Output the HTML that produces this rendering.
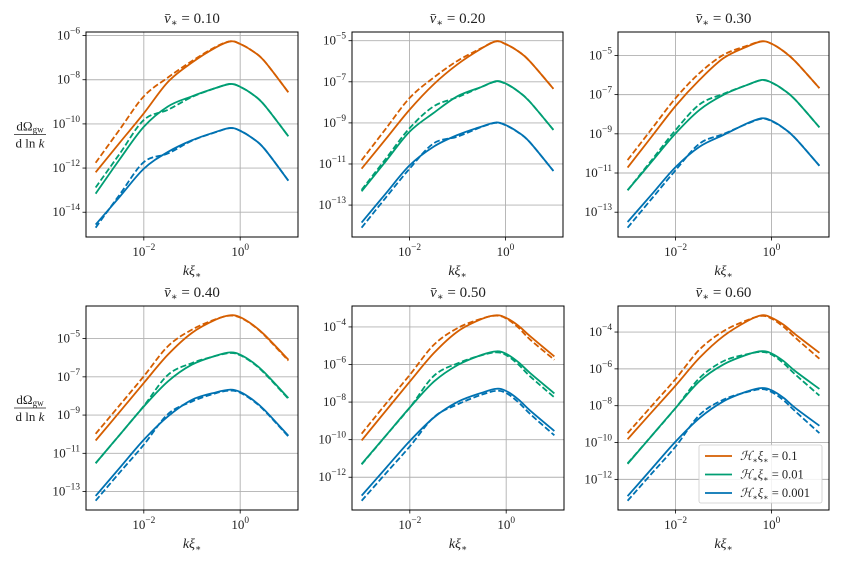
<!DOCTYPE html>
<html><head><meta charset="utf-8"><style>
body{margin:0;background:#fff}
svg{display:block;font-family:"Liberation Serif","DejaVu Serif",serif}
</style></head><body>
<svg id="fig" width="843" height="562" viewBox="0 0 843 562"></svg>
<script>
const logK = [-3,-2.5,-2,-1.5,-1,-0.5,-0.2,0,0.25,0.5,1];
const titles = ["0.10","0.20","0.30","0.40","0.50","0.60"];
const seriesNames = ["H=0.1","H=0.01","H=0.001"];
const yTicks = [[-6,-8,-10,-12,-14],[-5,-7,-9,-11,-13],[-5,-7,-9,-11,-13],[-5,-7,-9,-11,-13],[-4,-6,-8,-10,-12],[-4,-6,-8,-10,-12]];
const xTicks = [-2,0];
// log10 values; per panel: [orangeSolid, orangeDashed, greenSolid, greenDashed, blueSolid, blueDashed]
const p1 = [
 [-12.19,-10.85,-9.52,-8.1,-7.22,-6.53,-6.26,-6.38,-6.69,-7.15,-8.57],
 [-11.76,-10.25,-8.75,-7.9,-7.15,-6.5,-6.26,-6.38,-6.69,-7.15,-8.57],
 [-13.16,-11.6,-10.13,-9.21,-8.75,-8.37,-8.19,-8.32,-8.65,-9.14,-10.56],
 [-12.88,-11.35,-9.82,-9.36,-8.78,-8.37,-8.19,-8.32,-8.65,-9.14,-10.56],
 [-14.56,-13.3,-12.03,-11.27,-10.74,-10.36,-10.18,-10.31,-10.64,-11.12,-12.57],
 [-14.7,-13.2,-11.73,-11.34,-10.76,-10.37,-10.19,-10.31,-10.64,-11.12,-12.57]];
const p2 = [
 [-11.23,-9.8,-8.36,-7.13,-6.15,-5.38,-5.03,-5.16,-5.49,-5.98,-7.34],
 [-10.82,-9.3,-7.79,-6.8,-5.98,-5.36,-5.03,-5.16,-5.49,-5.98,-7.34],
 [-12.33,-10.88,-9.43,-8.52,-7.7,-7.25,-6.97,-7.08,-7.44,-7.95,-9.34],
 [-12.26,-10.76,-9.26,-8.2,-7.75,-7.25,-6.99,-7.09,-7.44,-7.95,-9.34],
 [-13.85,-12.45,-11.07,-10.16,-9.59,-9.18,-8.98,-9.1,-9.43,-9.92,-11.34],
 [-14.1,-12.65,-11.23,-10.0,-9.67,-9.2,-9.0,-9.11,-9.44,-9.92,-11.34]];
const p3 = [
 [-10.72,-9.15,-7.58,-6.25,-5.14,-4.54,-4.28,-4.4,-4.78,-5.31,-6.67],
 [-10.34,-8.76,-7.18,-5.9,-4.97,-4.5,-4.28,-4.4,-4.78,-5.31,-6.67],
 [-11.88,-10.43,-8.98,-7.78,-7.01,-6.5,-6.25,-6.38,-6.75,-7.27,-8.67],
 [-11.88,-10.35,-8.81,-7.5,-6.96,-6.5,-6.26,-6.39,-6.75,-7.27,-8.67],
 [-13.5,-12.1,-10.7,-9.66,-9.06,-8.46,-8.21,-8.33,-8.7,-9.23,-10.63],
 [-13.79,-12.32,-10.86,-9.5,-9.01,-8.48,-8.23,-8.35,-8.71,-9.23,-10.63]];
const p4 = [
 [-10.33,-8.83,-7.32,-5.84,-4.7,-4.0,-3.78,-3.88,-4.26,-4.79,-6.1],
 [-9.98,-8.48,-6.97,-5.4,-4.53,-3.98,-3.8,-3.9,-4.28,-4.82,-6.15],
 [-11.52,-10.03,-8.55,-7.24,-6.36,-5.89,-5.72,-5.84,-6.22,-6.76,-8.11],
 [-11.52,-10.03,-8.52,-6.9,-6.28,-5.9,-5.75,-5.87,-6.25,-6.8,-8.15],
 [-13.23,-11.76,-10.29,-9.07,-8.2,-7.81,-7.67,-7.79,-8.18,-8.72,-10.08],
 [-13.48,-12.0,-10.55,-8.95,-8.29,-7.85,-7.72,-7.83,-8.22,-8.76,-10.12]];
const p5 = [
 [-10.04,-8.47,-6.91,-5.39,-4.23,-3.57,-3.38,-3.52,-3.93,-4.5,-5.57],
 [-9.68,-8.1,-6.55,-4.95,-4.05,-3.55,-3.4,-3.55,-4.03,-4.68,-5.75],
 [-11.29,-9.79,-8.29,-6.91,-6.02,-5.48,-5.3,-5.43,-5.87,-6.46,-7.54],
 [-11.32,-9.8,-8.29,-6.6,-5.93,-5.5,-5.35,-5.5,-5.99,-6.64,-7.75],
 [-12.98,-11.52,-10.07,-8.82,-7.98,-7.5,-7.29,-7.41,-7.85,-8.46,-9.54],
 [-13.25,-11.8,-10.36,-8.8,-8.11,-7.6,-7.4,-7.52,-8.0,-8.64,-9.77]];
const p6 = [
 [-9.82,-8.36,-6.91,-5.4,-4.22,-3.4,-3.09,-3.22,-3.6,-4.13,-5.13],
 [-9.49,-8.02,-6.55,-4.95,-3.95,-3.35,-3.12,-3.27,-3.71,-4.31,-5.45],
 [-11.16,-9.64,-8.13,-6.67,-5.76,-5.22,-5.04,-5.16,-5.57,-6.13,-7.09],
 [-11.13,-9.64,-8.13,-6.5,-5.58,-5.2,-5.08,-5.22,-5.69,-6.31,-7.45],
 [-12.91,-11.43,-9.95,-8.67,-7.76,-7.22,-7.04,-7.16,-7.57,-8.13,-9.09],
 [-13.16,-11.69,-10.22,-8.5,-7.67,-7.25,-7.1,-7.25,-7.7,-8.31,-9.49]];
const panelData = [p1,p2,p3,p4,p5,p6];
const colors = ["#d55e00","#009e73","#0072b2"];
const NS = "http://www.w3.org/2000/svg";
const fig = document.getElementById("fig");
const boxes = [[86,32,298,237],[352,32,563,237],[618,32,829,237],[86,306,298,510],[352,306,564,510],[618,306,829,510]];
function mk(tag, attrs, parent){const e=document.createElementNS(NS,tag);for(const k in attrs)e.setAttribute(k,attrs[k]);(parent||fig).appendChild(e);return e;}
function sup(parent,x,y,base,exp,anchor,size){
  const t=mk("text",{x:x,y:y,"text-anchor":anchor,"font-size":size,fill:"#222"},parent);
  t.textContent=base;
  const s=mk("tspan",{dy:-6,"font-size":size*0.72},t);s.textContent=exp;
  return t;
}
function smoothPath(pts){
  let d="M"+pts[0][0].toFixed(2)+","+pts[0][1].toFixed(2);
  for(let i=0;i<pts.length-1;i++){
    const p0=pts[Math.max(0,i-1)],p1=pts[i],p2=pts[i+1],p3=pts[Math.min(pts.length-1,i+2)];
    const c1=[p1[0]+(p2[0]-p0[0])/6,p1[1]+(p2[1]-p0[1])/6];
    const c2=[p2[0]-(p3[0]-p1[0])/6,p2[1]-(p3[1]-p1[1])/6];
    d+=" C"+c1.map(v=>v.toFixed(2))+" "+c2.map(v=>v.toFixed(2))+" "+p2[0].toFixed(2)+","+p2[1].toFixed(2);
  }
  return d;
}
panelData.forEach((data,pi)=>{
  const [L,T,R,B]=boxes[pi];
  const g=mk("g",{});
  
  
  const xmin=Math.min(...logK),xmax=Math.max(...logK),xm=(xmax-xmin)*0.05;
  const all=data.flat();const ymin=Math.min(...all),ymax=Math.max(...all),ym=(ymax-ymin)*0.05;
  const x0=xmin-xm,x1=xmax+xm,y0=ymin-ym,y1=ymax+ym;
  const sx=v=>L+(v-x0)/(x1-x0)*(R-L);
  const sy=v=>B-(v-y0)/(y1-y0)*(B-T);
  const cid="clip"+pi;
  const cp=mk("clipPath",{id:cid},g);mk("rect",{x:L,y:T,width:R-L,height:B-T},cp);
  xTicks.forEach(t=>{
    const gl=mk("line",{x1:sx(t),x2:sx(t),y1:T,y2:B,stroke:"#b0b0b0","stroke-width":0.9},g);
    
    mk("line",{x1:sx(t),x2:sx(t),y1:B,y2:B+3.5,stroke:"#000","stroke-width":0.8},g);
    const lb=sup(g,sx(t),B+19,"10",String(t).replace("-","−"),"middle",13);
    
  });
  yTicks[pi].forEach(t=>{
    const gl=mk("line",{x1:L,x2:R,y1:sy(t),y2:sy(t),stroke:"#b0b0b0","stroke-width":0.9},g);
    
    mk("line",{x1:L-3.5,x2:L,y1:sy(t),y2:sy(t),stroke:"#000","stroke-width":0.8},g);
    const lb=sup(g,L-6,sy(t)+4,"10",String(t).replace("-","−"),"end",13);
    
  });
  const cg=mk("g",{"clip-path":"url(#"+cid+")"},g);
  data.forEach((ser,si)=>{
    const pts=ser.map((v,i)=>[sx(logK[i]),sy(v)]);
    const p=mk("path",{d:smoothPath(pts),fill:"none",stroke:colors[Math.floor(si/2)],"stroke-width":1.8,"stroke-dasharray":si%2?"6,2.6":"none","stroke-linecap":"butt"},cg);
    
    
  });
  const fr=mk("rect",{x:L,y:T,width:R-L,height:B-T,fill:"none",stroke:"#000","stroke-width":1},g);
  
  const tt=mk("text",{x:(L+R)/2,y:T-9,"text-anchor":"middle","font-size":15,fill:"#222"},g);
  
  tt.innerHTML='<tspan font-style="italic">v̄</tspan><tspan font-size="10" dy="3" font-style="italic">∗</tspan><tspan dy="-3"> = '+titles[pi]+'</tspan>';
  const xl=mk("text",{x:(L+R)/2,y:B+38,"text-anchor":"middle","font-size":14,fill:"#222"},g);
  
  xl.innerHTML='<tspan font-style="italic">kξ</tspan><tspan font-size="9" dy="3" font-style="italic">∗</tspan>';
  if(pi%3===0){
    const yl=mk("g",{},g);
    
    const cy=(T+B)/2,cx=30;
    const n=mk("text",{x:cx,y:cy-4,"text-anchor":"middle","font-size":13,fill:"#222"},yl);
    n.innerHTML='dΩ<tspan font-size="9" dy="2">gw</tspan>';
    mk("line",{x1:cx-16,x2:cx+16,y1:cy,y2:cy,stroke:"#222","stroke-width":0.8},yl);
    const dd=mk("text",{x:cx,y:cy+13,"text-anchor":"middle","font-size":13,fill:"#222"},yl);
    dd.innerHTML='d ln <tspan font-style="italic">k</tspan>';
  }
});
const lg=mk("g",{});


mk("rect",{x:699,y:445,width:123,height:58,rx:2,fill:"#fff","fill-opacity":0.85,stroke:"#ccc","stroke-width":0.8},lg);
const labs=["0.1","0.01","0.001"];
labs.forEach((l,i)=>{
  const y=456+i*18.5;
  const e=mk("g",{},lg);
  
  
  mk("line",{x1:705,x2:732,y1:y,y2:y,stroke:colors[i],"stroke-width":1.8},e);
  const t=mk("text",{x:740,y:y+4,"font-size":12.5,fill:"#222"},e);
  t.innerHTML='<tspan font-style="italic">ℋ</tspan><tspan font-size="8" dy="3">∗</tspan><tspan dy="-3" font-style="italic">ξ</tspan><tspan font-size="8" dy="3">∗</tspan><tspan dy="-3"> = '+l+'</tspan>';
});
</script>
</body></html>
